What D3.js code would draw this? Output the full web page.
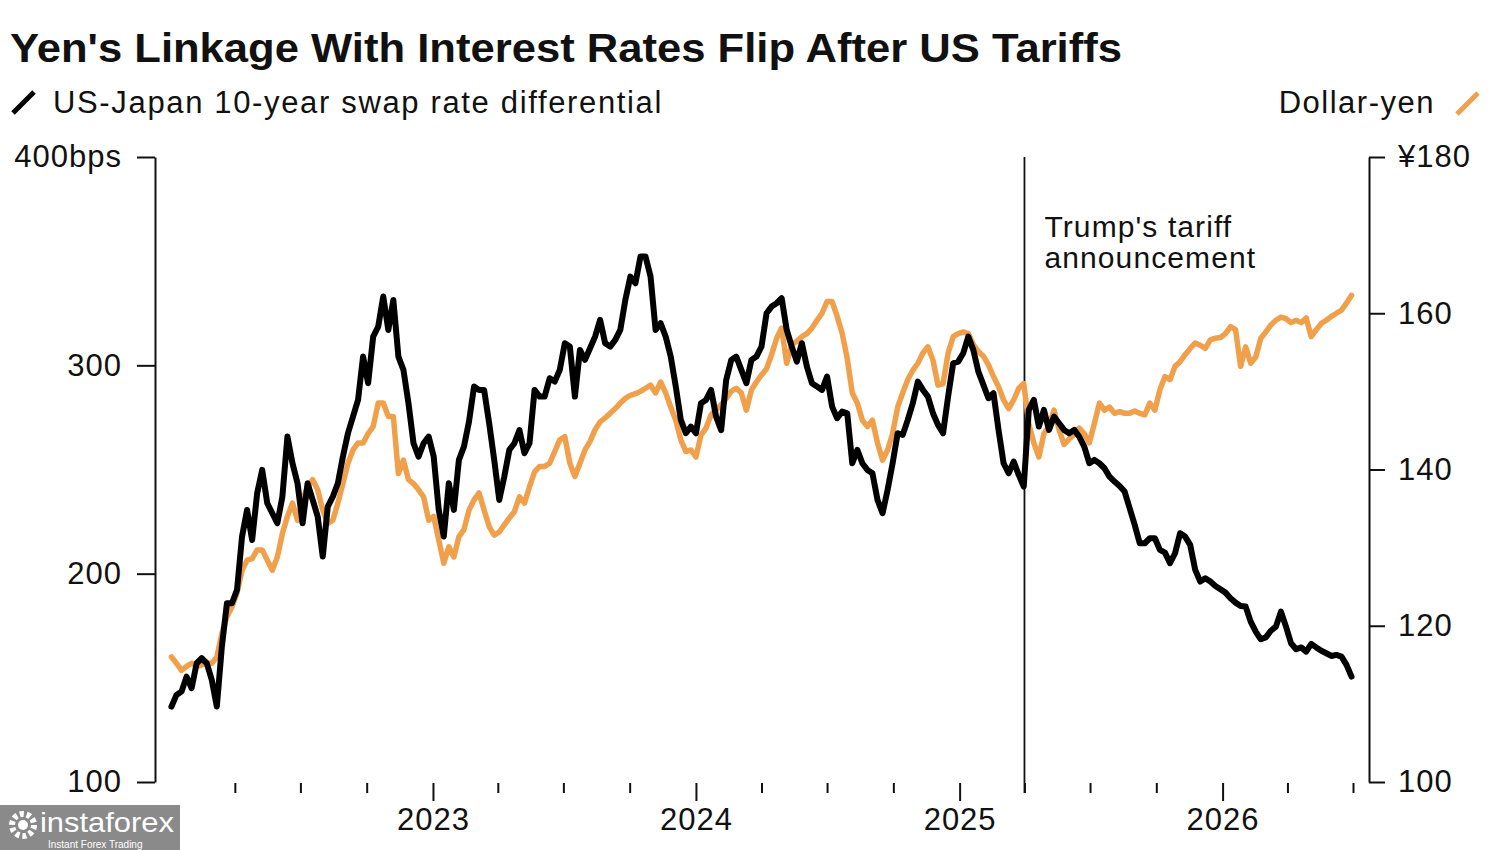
<!DOCTYPE html>
<html>
<head>
<meta charset="utf-8">
<script src="https://cdnjs.cloudflare.com/ajax/libs/d3/7.8.5/d3.min.js"></script>
<style>
  body { margin: 0; background: #fff; }
  text { font-family: "Liberation Sans", Arial, Helvetica, sans-serif; fill: #111; }
  .axis text { font-size: 31px; letter-spacing: 1px; }
  .axis path, .axis line { stroke: #111; stroke-width: 2; }
</style>
</head>
<body>
<div id="chart"></div>
<script>
// weekly observations, first one on 3 Jan 2022
var firstWeek = '2022-01-03'

// US-Japan 10-year swap rate differential (bps)
var swapDiff = [
  136.2, 141.8, 143.4, 150.6, 145.0, 157.0, 159.4, 157.0, 149.0, 136.2,
  165.0, 185.8, 185.8, 192.2, 217.8, 230.6, 216.2, 238.6, 249.8, 233.8,
  229.0, 224.2, 237.0, 265.8, 253.0, 243.4, 224.2, 243.4, 235.4, 227.4,
  208.2, 232.2, 237.0, 243.4, 256.2, 267.4, 275.4, 283.4, 304.2, 291.4,
  313.8, 318.6, 333.0, 317.0, 331.4, 304.2, 297.8, 281.8, 262.6, 256.2,
  262.6, 265.8, 256.2, 230.6, 217.8, 243.4, 230.6, 254.6,
  261.0, 273.0, 289.8, 288.2, 288.2, 272.2, 254.6, 235.4, 246.6, 259.4,
  262.6, 268.9, 257.8, 262.6, 288.2, 285.0, 285.0, 293.8, 292.2, 297.8,
  310.6, 309.0, 285.0, 307.4, 302.6, 308.2, 313.8, 321.8, 310.6, 309.0,
  312.2, 317.0, 331.4, 342.6, 339.4, 352.2, 352.2, 342.6, 317.0, 320.2,
  313.8, 304.2, 289.8, 273.8, 267.4, 270.6, 267.4, 281.8, 283.4, 288.2,
  275.4, 268.9, 293.0, 302.6, 304.2, 297.8, 291.4, 302.6, 304.2,
  309.0, 325.0, 328.2, 329.8, 332.2, 317.0, 309.0, 301.8, 310.6, 299.4,
  291.4, 289.8, 288.2, 294.6, 280.2, 274.6, 277.8, 277.0, 253.0, 259.4,
  253.0, 249.8, 248.2, 235.4, 229.0, 240.2, 253.0, 267.4, 266.6, 273.8,
  281.8, 292.2, 288.2, 285.0, 277.0, 271.4, 267.4, 285.0, 301.0, 301.8,
  305.8, 313.8, 307.4, 297.0, 290.6, 284.2, 286.6, 269.0, 253.0, 248.2,
  253.8, 247.4, 241.8, 278.6, 283.4, 270.6, 278.6, 269.0, 275.4, 272.2,
  269.0, 267.4, 269.0, 265.8, 261.0, 253.0, 254.6, 253.0, 250.6, 246.6,
  244.2, 242.1, 239.4, 231.4, 223.4, 214.6, 214.6, 217.0, 217.0, 211.4,
  210.1, 205.0, 209.8, 219.4, 217.8, 213.8, 201.8, 196.2, 197.8, 196.2,
  194.1, 192.5, 190.9, 188.2, 186.1, 184.5, 184.2, 177.0, 172.2, 168.5,
  169.4, 172.6, 174.6, 181.8, 174.6, 166.6, 163.7, 164.6, 162.6, 166.3,
  164.6, 163.0, 161.8, 160.5, 161.0, 160.2, 156.2, 150.6
]

// Dollar-yen
var usdJpy = [
  116.0, 115.2, 114.3, 114.8, 115.2, 114.8, 115.0, 115.2, 115.2, 116.0,
  119.0, 121.2, 122.4, 124.2, 127.1, 128.4, 128.6, 129.7, 129.7, 128.4,
  127.1, 128.8, 131.8, 134.0, 135.7, 133.5, 136.1, 137.8, 138.7, 137.4,
  134.8, 133.1, 133.5, 135.7, 138.2, 140.8, 142.5, 143.4, 143.4, 144.6,
  145.5, 148.5, 148.5, 146.8, 146.8, 139.5, 141.2, 138.7, 138.2, 137.4,
  136.5, 133.5, 134.0, 131.0, 128.0, 130.1, 128.8, 131.4,
  132.3, 134.8, 136.1, 137.0, 134.8, 132.7, 131.6, 132.0, 132.9, 133.8,
  134.6, 136.5, 135.7, 137.8, 139.7, 140.4, 140.4, 140.8, 142.3, 143.8,
  144.2, 140.8, 139.1, 140.8, 142.5, 143.6, 145.1, 146.1, 146.6, 147.2,
  147.8, 148.5, 149.1, 149.5, 149.7, 150.0, 150.4, 150.8, 149.8, 151.2,
  149.8, 148.0, 146.3, 143.8, 142.3, 142.5, 141.6, 144.4, 145.3, 147.0,
  147.6, 148.3, 149.1, 150.0, 150.4, 149.8, 147.6, 150.2, 151.2,
  152.1, 152.9, 154.7, 156.8, 158.1, 153.6, 156.0, 156.4, 157.0, 157.4,
  158.1, 159.1, 160.0, 161.5, 161.5, 159.6, 157.4, 154.2, 149.8, 148.5,
  146.3, 145.5, 146.3, 143.4, 141.2, 142.5, 144.6, 148.0, 149.8, 151.5,
  152.7, 153.6, 154.9, 155.7, 154.0, 150.8, 151.0, 154.9, 157.0, 157.4,
  157.6, 157.4, 156.0, 155.1, 154.5, 153.4, 151.9, 150.6, 148.9, 147.8,
  148.9, 150.4, 151.0, 145.9, 143.4, 141.6, 144.6, 145.5, 147.6, 145.1,
  143.2, 143.9, 144.5, 145.3, 144.6, 143.4, 145.9, 148.5, 147.6, 148.0,
  147.2, 147.4, 147.2, 147.2, 147.5, 147.2, 147.0, 148.5, 147.6, 150.2,
  151.9, 151.5, 153.2, 153.8, 154.7, 155.5, 156.2, 155.9, 155.5, 156.6,
  156.8, 156.9, 157.4, 158.3, 157.9, 153.2, 155.7, 153.6, 154.4, 156.8,
  157.6, 158.5, 159.1, 159.5, 159.3, 158.8, 159.1, 158.8, 159.4, 157.0,
  157.9, 158.7, 159.1, 159.6, 160.0, 160.4, 161.3, 162.3
]

var leftTicks = [100, 200, 300, 400]
var rightTicks = [100, 120, 140, 160, 180]
var tariffDate = '2025-04-01'

var parse = d3.utcParse('%Y-%m-%d')
var start = parse(firstWeek)
var dates = swapDiff.map(function (d, i) { return d3.utcDay.offset(start, 7 * i) })

var W = 1500, H = 850
var plotTop = 157, plotBottom = 782

var svg = d3.select('#chart').append('svg')
    .attr('width', W)
    .attr('height', H)

svg.append('rect').attr('width', W).attr('height', H).attr('fill', '#fff')

// Scales
var xScale = d3.scaleUtc()
  .domain([parse('2022-01-01'), parse('2026-07-01')])
  .range([170, 1353])
var yLeft = d3.scaleLinear().domain([100, 400]).range([plotBottom, plotTop])
var yRight = d3.scaleLinear().domain([100, 180]).range([plotBottom, plotTop])

// Title + legend
svg.append('text')
    .attr('x', 10).attr('y', 62)
    .attr('textLength', 1112)
    .attr('lengthAdjust', 'spacingAndGlyphs')
    .style('font-size', '40px')
    .style('font-weight', 'bold')
    .text("Yen's Linkage With Interest Rates Flip After US Tariffs")

svg.append('line')
    .attr('x1', 13).attr('y1', 113).attr('x2', 34).attr('y2', 92)
    .attr('stroke', '#000').attr('stroke-width', 5)
svg.append('text')
    .attr('x', 53).attr('y', 113)
    .style('font-size', '31px')
    .style('letter-spacing', '1.65px')
    .text('US-Japan 10-year swap rate differential')

svg.append('line')
    .attr('x1', 1457).attr('y1', 114).attr('x2', 1478).attr('y2', 93)
    .attr('stroke', '#F0A04B').attr('stroke-width', 5)
svg.append('text')
    .attr('x', 1435).attr('y', 113)
    .style('font-size', '31px')
    .style('letter-spacing', '1.5px')
    .style('text-anchor', 'end')
    .text('Dollar-yen')

// Left axis
svg.append('g')
    .attr('class', 'axis')
    .attr('transform', 'translate(155,0)')
    .call(d3.axisLeft(yLeft).tickValues(leftTicks).tickSize(18).tickSizeOuter(0).tickPadding(15)
      .tickFormat(function (d) { return d == 400 ? '400bps' : d }))

// Right axis
svg.append('g')
    .attr('class', 'axis')
    .attr('transform', 'translate(1369,0)')
    .call(d3.axisRight(yRight).tickValues(rightTicks).tickSize(16).tickSizeOuter(0).tickPadding(13)
      .tickFormat(function (d) { return d == 180 ? '¥180' : d }))

// X axis: quarterly ticks, years labelled
var quarters = d3.utcMonth.every(3).range(parse('2022-04-01'), parse('2026-07-02'))
var xAxis = svg.append('g')
    .attr('class', 'axis')
    .attr('transform', 'translate(0,' + (plotBottom + 1) + ')')
    .call(d3.axisBottom(xScale).tickValues(quarters).tickSize(10)
      .tickFormat(function (d) { return d.getUTCMonth() == 0 ? d.getUTCFullYear() : '' }))
xAxis.select('.domain').remove()
xAxis.selectAll('.tick')
    .filter(function (d) { return d.getUTCMonth() == 0 })
    .select('line').attr('y2', 18)
xAxis.selectAll('.tick text').attr('y', 25)

// Tariff announcement
var tx = xScale(parse(tariffDate))
svg.append('line')
    .attr('x1', tx).attr('x2', tx)
    .attr('y1', plotTop).attr('y2', plotBottom + 11)
    .attr('stroke', '#111').attr('stroke-width', 1.8)
svg.append('text')
    .attr('x', tx + 20).attr('y', 237)
    .style('font-size', '30px')
    .style('letter-spacing', '1.1px')
    .text("Trump's tariff")
svg.append('text')
    .attr('x', tx + 20).attr('y', 268)
    .style('font-size', '30px')
    .style('letter-spacing', '1.1px')
    .text('announcement')

// Lines
var yenLine = d3.line()
    .x(function (d, i) { return xScale(dates[i]) })
    .y(function (d) { return yRight(d) })
var swapLine = d3.line()
    .x(function (d, i) { return xScale(dates[i]) })
    .y(function (d) { return yLeft(d) })

svg.append('path')
    .datum(usdJpy)
    .attr('d', yenLine)
    .attr('fill', 'none')
    .attr('stroke', '#F0A04B')
    .attr('stroke-width', 5.5)
    .attr('stroke-linejoin', 'round')
    .attr('stroke-linecap', 'round')

svg.append('path')
    .datum(swapDiff)
    .attr('d', swapLine)
    .attr('fill', 'none')
    .attr('stroke', '#000')
    .attr('stroke-width', 6)
    .attr('stroke-linejoin', 'round')
    .attr('stroke-linecap', 'round')

// watermark
var wm = svg.append('g').attr('transform', 'translate(0,805)')
wm.append('rect').attr('width', 180).attr('height', 45).attr('fill', '#8a8a8a')
wm.append('circle').attr('cx', 23).attr('cy', 20).attr('r', 11)
    .attr('fill', 'none').attr('stroke', '#fff').attr('stroke-width', 6)
    .attr('stroke-dasharray', '4 2.9')
wm.append('circle').attr('cx', 23).attr('cy', 20).attr('r', 5).attr('fill', '#fff')
wm.append('text')
    .attr('x', 40).attr('y', 27)
    .style('font-size', '28px').style('fill', '#fff')
    .attr('textLength', 134).attr('lengthAdjust', 'spacingAndGlyphs')
    .text('instaforex')
wm.append('text')
    .attr('x', 48).attr('y', 43)
    .style('font-size', '10px').style('fill', '#fff')
    .text('Instant Forex Trading')
</script>
</body>
</html>
